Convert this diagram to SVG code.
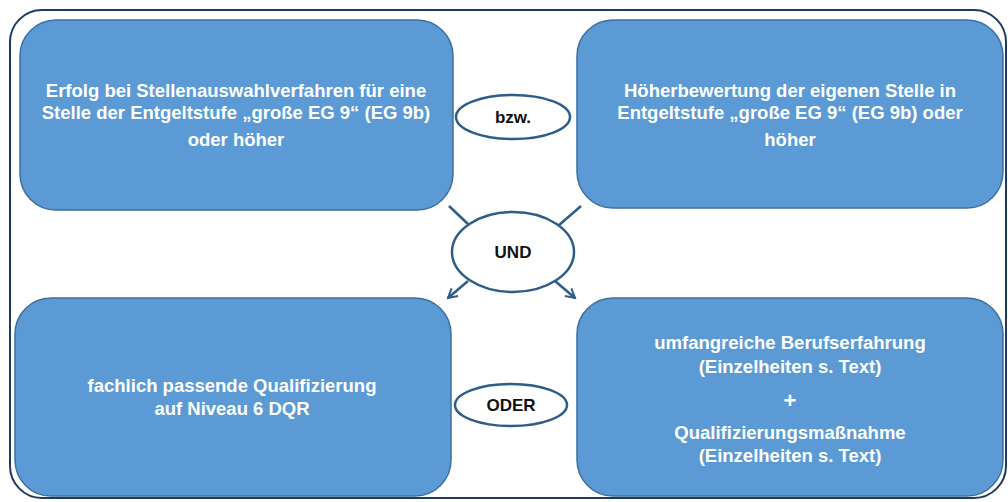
<svg xmlns="http://www.w3.org/2000/svg" width="1008" height="502" viewBox="0 0 1008 502">
<style>
.box{fill:#5B9AD5;stroke:#3F6F9E;stroke-width:1.5}
.ell{fill:#fff;stroke:#2F5D8A;stroke-width:2.5}
.wt{fill:#fff;font-family:"Liberation Sans",Arial,sans-serif;font-weight:bold;font-size:18.5px;text-anchor:middle}
.bt{fill:#111;font-family:"Liberation Sans",Arial,sans-serif;font-weight:bold;font-size:17px;text-anchor:middle}
.con{stroke:#2F5D8A;stroke-width:2.5;fill:none}
</style>
<defs>
<marker id="ah" viewBox="0 0 12 12" refX="10" refY="6" markerWidth="12" markerHeight="12" markerUnits="userSpaceOnUse" orient="auto">
<path d="M1,1 L10,6 L1,11" fill="none" stroke="#2F5D8A" stroke-width="2"/>
</marker>
</defs>
<rect id="frame" x="10" y="10" width="996" height="488" rx="32" fill="none" stroke="#1F3A5F" stroke-width="2"/>
<g id="connectors">
<line class="con" x1="449" y1="206" x2="469" y2="225"/>
<line class="con" x1="581" y1="206" x2="558" y2="226"/>
<line class="con" x1="468" y1="281" x2="448" y2="298" marker-end="url(#ah)"/>
<line class="con" x1="555" y1="281" x2="575" y2="298" marker-end="url(#ah)"/>
</g>
<g id="n-erfolg">
<rect class="box" x="20" y="20" width="433" height="190" rx="36"/>
<text class="wt" x="236" y="97">Erfolg bei Stellenauswahlverfahren für eine</text>
<text class="wt" x="236" y="119">Stelle der Entgeltstufe „große EG 9“ (EG 9b)</text>
<text class="wt" x="236" y="146">oder höher</text>
</g>
<g id="n-hoeher">
<rect class="box" x="577" y="20" width="426" height="188" rx="36"/>
<text class="wt" x="790" y="97">Höherbewertung der eigenen Stelle in</text>
<text class="wt" x="790" y="119">Entgeltstufe „große EG 9“ (EG 9b) oder</text>
<text class="wt" x="790" y="146">höher</text>
</g>
<g id="n-bzw">
<ellipse class="ell" cx="513" cy="117" rx="57" ry="22"/>
<text class="bt" x="513" y="123">bzw.</text>
</g>
<g id="n-und">
<ellipse class="ell" cx="513" cy="252" rx="61" ry="40"/>
<text class="bt" x="513" y="258">UND</text>
</g>
<g id="n-quali">
<rect class="box" x="15" y="298" width="436" height="198" rx="36"/>
<text class="wt" x="232" y="392">fachlich passende Qualifizierung</text>
<text class="wt" x="232" y="415">auf Niveau 6 DQR</text>
</g>
<g id="n-oder">
<ellipse class="ell" cx="511" cy="405" rx="56" ry="21"/>
<text class="bt" x="511" y="411">ODER</text>
</g>
<g id="n-beruf">
<rect class="box" x="577" y="298" width="426" height="198" rx="36"/>
<text class="wt" x="790" y="349">umfangreiche Berufserfahrung</text>
<text class="wt" x="790" y="373">(Einzelheiten s. Text)</text>
<text class="wt" x="790" y="408" style="font-size:22px">+</text>
<text class="wt" x="790" y="439">Qualifizierungsmaßnahme</text>
<text class="wt" x="790" y="462">(Einzelheiten s. Text)</text>
</g>
</svg>
